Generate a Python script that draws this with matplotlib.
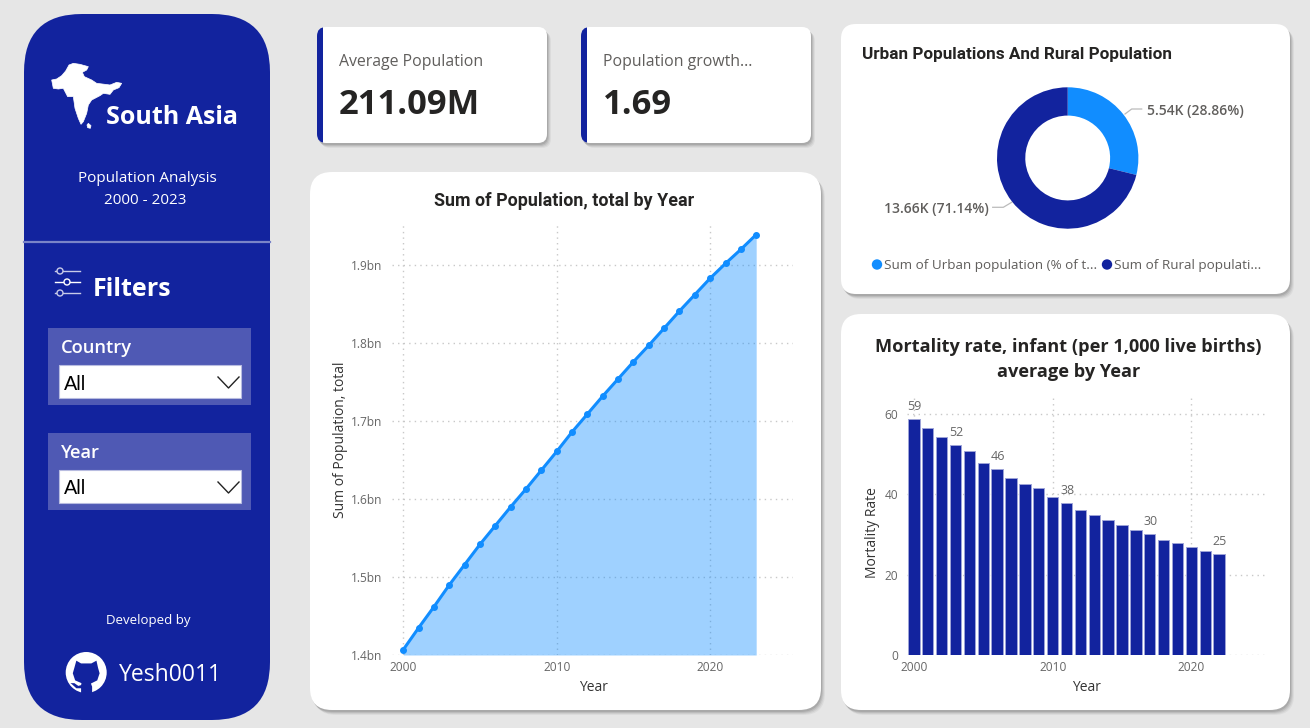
import matplotlib
matplotlib.use("Agg")
import matplotlib.pyplot as plt
from matplotlib.patches import FancyBboxPatch, Rectangle, Polygon, Circle

# chart data
years_pop = list(range(2000, 2024))
population = [1.407, 1.435, 1.462, 1.490, 1.516, 1.542, 1.566, 1.590, 1.613, 1.637, 1.661, 1.686,
              1.709, 1.732, 1.754, 1.776, 1.797, 1.819, 1.841, 1.862, 1.883, 1.902, 1.920, 1.939]
pop_ticks = [1.4, 1.5, 1.6, 1.7, 1.8, 1.9]
pop_tick_labels = ["1.4bn", "1.5bn", "1.6bn", "1.7bn", "1.8bn", "1.9bn"]

years_mort = list(range(2000, 2023))
mortality = [58.6, 56.4, 54.2, 52.1, 50.7, 47.7, 46.2, 44.1, 42.4, 41.4, 39.4, 37.7,
             36.0, 34.8, 33.5, 32.2, 31.1, 30.0, 28.6, 27.8, 26.8, 25.8, 25.1]
mort_labelled = {2000: "59", 2003: "52", 2006: "46", 2011: "38", 2017: "30", 2022: "25"}

donut_values = [5.54, 13.66]
donut_labels = ["5.54K (28.86%)", "13.66K (71.14%)"]

BLUE = "#12239E"
LIGHT = "#118DFF"
W, H = 1310, 728

plt.rcParams["font.family"] = ["Open Sans", "DejaVu Sans"]
fig = plt.figure(figsize=(W / 100, H / 100), dpi=100, facecolor="#E6E6E6")

# one big axes in pixel coordinates for the cards and text
bg = fig.add_axes([0, 0, 1, 1])
bg.set_xlim(0, W)
bg.set_ylim(H, 0)
bg.axis("off")


def card(x0, y0, x1, y1, r, color="white", shadow=True):
    if shadow:
        for off, a in [(5, 0.07), (4, 0.10), (3, 0.14), (2, 0.18)]:
            bg.add_patch(FancyBboxPatch((x0 + r + off - 1, y0 + r + off), x1 - x0 - 2 * r, y1 - y0 - 2 * r,
                                        boxstyle="round,pad=%d,rounding_size=%d" % (r, r),
                                        fc="#555555", ec="none", alpha=a))
    bg.add_patch(FancyBboxPatch((x0 + r, y0 + r), x1 - x0 - 2 * r, y1 - y0 - 2 * r,
                                boxstyle="round,pad=%d,rounding_size=%d" % (r, r), fc=color, ec="none"))


def px_axes(x0, y0, x1, y1):
    return fig.add_axes([x0 / W, 1 - y1 / H, (x1 - x0) / W, (y1 - y0) / H])


# sidebar
card(24, 14, 270, 720, 58, BLUE, shadow=False)
bg.plot([24, 270], [242, 242], color="#7A84C8", lw=1.6)

# map icon, traced on a 3x crop starting at (45, 55)
map_outline = [(20, 75), (35, 72), (50, 62), (62, 48), (72, 30), (85, 25), (105, 28), (130, 35), (125, 45), (112, 52),
               (118, 65), (140, 75), (155, 85), (180, 88), (195, 90), (215, 82), (230, 85), (222, 98), (205, 105),
               (195, 118), (175, 115), (165, 122), (140, 135), (130, 150), (125, 175), (115, 200), (108, 208),
               (100, 190), (90, 160), (85, 125), (68, 125), (55, 100), (40, 102), (25, 100)]
map_island = [(130, 205), (138, 212), (136, 220), (128, 218), (126, 210)]
for shape in (map_outline, map_island):
    bg.add_patch(Polygon([(45 + a / 3, 55 + b / 3) for a, b in shape], fc="white", ec="white", lw=0.5))

bg.text(106, 118, "South Asia", color="white", fontsize=18, fontweight="bold", va="center", ha="left")
bg.text(147, 178, "Population Analysis", color="white", fontsize=11, va="center", ha="center")
bg.text(145, 200, "2000 - 2023", color="white", fontsize=11, va="center", ha="center")

# filter icon
for yy, cx, col in [(271, 60, "#C8CBE8"), (282, 67, "white"), (293, 60, "#C8CBE8")]:
    bg.plot([55, 80], [yy, yy], color=col, lw=1)
    bg.add_patch(Circle((cx, yy), 3, fc=BLUE, ec=col, lw=1, zorder=3))
bg.text(93, 290, "Filters", color="white", fontsize=18, fontweight="bold", va="center", ha="left")

# slicers
for top, name in [(328, "Country"), (433, "Year")]:
    bg.add_patch(Rectangle((48, top), 203, 77, fc="#4F59B4", ec="none"))
    bg.text(61, top + 20, name, color="white", fontsize=13.2, fontweight="semibold", va="center", ha="left")
    bg.add_patch(Rectangle((59, top + 37), 182, 33, fc="white", ec="#B8BCE0", lw=0.8))
    bg.text(64, top + 56, "All", color="black", fontsize=14.3, va="center", ha="left",
            family=["Liberation Sans", "DejaVu Sans"])
    bg.plot([218, 228.5, 239], [top + 49, top + 60, top + 49], color="#222222", lw=1)

bg.text(148, 620.5, "Developed by", color="white", fontsize=9.5, va="center", ha="center")

# github mark, blue cat cut out of a white disc
bg.add_patch(Circle((86.2, 672.5), 20.5, fc="white", ec="none"))
cat = [(45, 40), (57, 47), (83, 47), (96, 40), (100, 58), (104, 72), (98, 90), (82, 98), (85, 106), (85, 122),
       (57, 122), (57, 110), (45, 110), (34, 100), (30, 97), (40, 97), (50, 104), (57, 102), (58, 97),
       (42, 90), (36, 72), (40, 58)]
bg.add_patch(Polygon([(86.2 + (a - 70) * 20.5 / 52, 672.5 + (b - 70) * 20.5 / 52) for a, b in cat],
                     fc=BLUE, ec="none"))
bg.text(119, 675, "Yesh0011", color="white", fontsize=16.5, va="center", ha="left")

# KPI cards
for x0, label, value in [(317, "Average Population", "211.09M"), (581, "Population growth...", "1.69")]:
    card(x0, 27, x0 + 230, 143, 9)
    clip = FancyBboxPatch((x0 + 9, 36), 212, 98, boxstyle="round,pad=9,rounding_size=9",
                          fc="none", ec="none", transform=bg.transData)
    bg.add_patch(clip)
    strip = Rectangle((x0, 27), 5.5, 116, fc=BLUE, ec="none")
    bg.add_patch(strip)
    strip.set_clip_path(clip)
    bg.text(x0 + 22, 62, label, color="#605E5C", fontsize=11.4, fontweight="medium", va="center", ha="left")
    bg.text(x0 + 22, 105, value, color="#252423", fontsize=24.8, fontweight="bold", va="center", ha="left")

# big cards
card(310, 172, 821, 710, 22)
card(841, 24, 1290, 294, 15)
card(841, 314, 1290, 710, 20)

title_font = ["Roboto", "DejaVu Sans"]
bg.text(564.5, 200.5, "Sum of Population, total by Year", color="#252423", fontsize=12.85, fontweight="bold",
        va="center", ha="center", family=title_font)
bg.text(862, 54, "Urban Populations And Rural Population", color="#252423", fontsize=12.3, fontweight="bold",
        va="center", ha="left", family=title_font)
bg.text(1068.5, 346.5, "Mortality rate, infant (per 1,000 live births)", color="#252423", fontsize=13.1,
        fontweight="bold", va="center", ha="center")
bg.text(1068.5, 372, "average by Year", color="#252423", fontsize=13.1, fontweight="bold",
        va="center", ha="center")

# line chart
ax = px_axes(391.7, 224, 793, 655)
ax.patch.set_alpha(0)
ax.fill_between(years_pop, population, 1.4, color=LIGHT, alpha=0.4, lw=0, zorder=3)
ax.plot(years_pop, population, color=LIGHT, lw=2.2, marker="o", ms=4, zorder=4, clip_on=False)
ax.set_xlim(1999.24, 2025.4)
ax.set_ylim(1.4, 1.9526)
ax.set_xticks([2000, 2010, 2020])
ax.set_yticks(pop_ticks)
ax.set_yticklabels(pop_tick_labels)
ax.set_xlabel("Year", fontsize=10, color="#333333", labelpad=4.5, x=0.504)
ax.set_ylabel("Sum of Population, total", fontsize=10, color="#333333", labelpad=2)

# bar chart
ax2 = px_axes(907, 398, 1267, 655)
ax2.patch.set_alpha(0)
ax2.bar(years_mort, mortality, width=0.82, color=BLUE, edgecolor="#9DA3D8", lw=0.7, zorder=3)
for yr, lab in mort_labelled.items():
    ax2.text(yr + 0.05, mortality[yr - 2000] + 1.5, lab, color="#666666", fontsize=9, ha="center", va="bottom", zorder=4)
ax2.set_xlim(1999.5, 2025.45)
ax2.set_ylim(0, 63.9)
ax2.set_xticks([2000, 2010, 2020])
ax2.set_yticks([0, 20, 40, 60])
ax2.set_xlabel("Year", fontsize=10, color="#333333", labelpad=4.5, x=0.5)
ax2.set_ylabel("Mortality Rate", fontsize=10, color="#333333", labelpad=3, y=0.475)

for a in (ax, ax2):
    a.grid(True, color="#C8C8C8", linestyle=(0, (1, 3)), lw=1)
    a.set_axisbelow(True)
    a.tick_params(length=0, labelsize=8.6, labelcolor="#666666")
    a.tick_params(axis="y", pad=6.5)
    a.tick_params(axis="x", pad=4)
    for s in a.spines.values():
        s.set_visible(False)

# donut
ax3 = px_axes(1067.7 - 70.7, 158 - 70.7, 1067.7 + 70.7, 158 + 70.7)
ax3.pie(donut_values, colors=[LIGHT, BLUE], startangle=90, counterclock=False, radius=1,
        wedgeprops=dict(width=0.4, edgecolor="none"))
ax3.set_xlim(-1, 1)
ax3.set_ylim(-1, 1)
bg.plot([1125, 1131.7, 1141.7], [114, 109, 109], color="#BBBBBB", lw=0.9)
bg.plot([1011.7, 1003.3, 992.7], [202.3, 207.3, 207.3], color="#BBBBBB", lw=0.9)
bg.text(1147, 111, donut_labels[0], color="#605E5C", fontsize=10, fontweight="semibold", va="center", ha="left")
bg.text(989, 209, donut_labels[1], color="#605E5C", fontsize=10, fontweight="semibold", va="center", ha="right")

# donut legend
bg.add_patch(Circle((877, 264.5), 5.2, fc=LIGHT, ec="none"))
bg.add_patch(Circle((1107, 264.5), 5.2, fc=BLUE, ec="none"))
bg.text(883.5, 266, "Sum of Urban population (% of t...", color="#605E5C", fontsize=9.7, va="center", ha="left")
bg.text(1114.5, 266, "Sum of Rural populati...", color="#605E5C", fontsize=9.7, va="center", ha="left")

fig.savefig("out.png", dpi=100, facecolor=fig.get_facecolor())
